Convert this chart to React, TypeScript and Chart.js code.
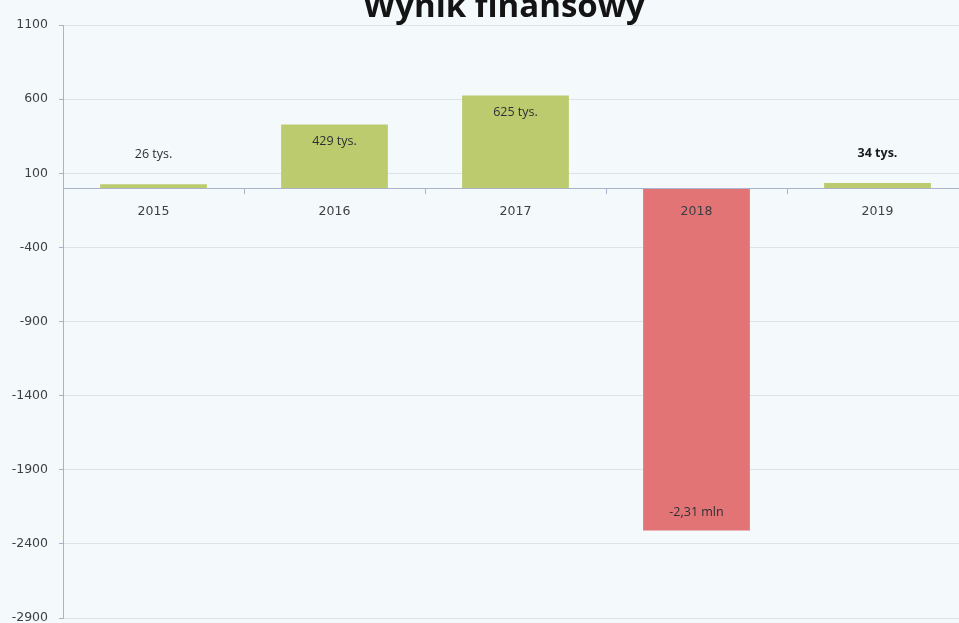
import React, { useEffect, useRef } from "react";
import { Chart, registerables } from "chart.js";

Chart.register(...registerables);

const title = "Wynik finansowy";
const categories = ["2015", "2016", "2017", "2018", "2019"];
const values = [26, 429, 625, -2310, 34];
const valueLabels = ["26 tys.", "429 tys.", "625 tys.", "-2,31 mln", "34 tys."];
const yTicks = [-2900, -2400, -1900, -1400, -900, -400, 100, 600, 1100];

const CANVAS_W = 975;
const CANVAS_H = 623;

const titlePlugin = {
  id: "titleText",
  afterDraw(chart: any) {
    const ctx = chart.ctx;
    ctx.save();
    ctx.font = 'bold 33px "Open Sans"';
    ctx.fillStyle = "#141414";
    ctx.textAlign = "center";
    ctx.textBaseline = "alphabetic";
    ctx.fillText(title, 504, 17);
    ctx.restore();
  },
};

const labelPlugin = {
  id: "valueLabels",
  afterDatasetsDraw(chart: any) {
    const ctx = chart.ctx;
    const meta = chart.getDatasetMeta(0);
    meta.data.forEach((bar: any, i: number) => {
      const v = values[i];
      const p = bar.getProps(["x", "y", "base"], true);
      let y: number;
      if (v < 0) y = p.y - 18;
      else if (p.base - p.y < 40) y = p.y - 30;
      else y = p.y + 17;
      ctx.save();
      const bold = categories[i] === "2019";
      ctx.font = (bold ? "bold " : "") + '12.5px "Open Sans"';
      ctx.fillStyle = bold ? "#1a1a1a" : "#2b2f33";
      ctx.textAlign = "center";
      ctx.textBaseline = "middle";
      ctx.fillText(valueLabels[i], p.x, y);
      ctx.restore();
    });
  },
};

export default function App() {
  const ref = useRef<HTMLCanvasElement | null>(null);

  useEffect(() => {
    if (!ref.current) return;
    const chart = new Chart(ref.current, {
      type: "bar",
      data: {
        labels: categories,
        datasets: [
          {
            data: values,
            backgroundColor: values.map((v) => (v < 0 ? "#e27476" : "#bdcb6f")),
            borderWidth: 0,
            barPercentage: 0.59,
            categoryPercentage: 1,
          },
        ],
      },
      options: {
        responsive: false,
        animation: false,
        layout: { padding: { left: 0, top: 25, right: 7, bottom: 5 } },
        plugins: {
          legend: { display: false },
          tooltip: { enabled: false },
          title: { display: false },
        },
        scales: {
          x: {
            type: "category",
            position: { y: 0 } as any,
            offset: true,
            grid: {
              offset: true,
              drawOnChartArea: false,
              drawTicks: true,
              tickLength: 5,
              color: "#a9b3cc",
            },
            border: { color: "#a9b3cc", width: 1, z: 1 },
            ticks: {
              z: 1,
              padding: 11,
              color: "#3d3f44",
              font: { family: "DejaVu Sans", size: 12.5 },
              maxRotation: 0,
            },
          },
          y: {
            min: -2900,
            max: 1100,
            afterBuildTicks: (scale: any) => {
              scale.ticks = yTicks.map((v) => ({ value: v }));
            },
            afterFit: (scale: any) => {
              scale.width = 63;
              scale.paddingTop = 0;
              scale.paddingBottom = 0;
            },
            grid: {
              color: "#dde3e8",
              tickColor: "#a9b3cc",
              tickLength: 4,
              drawTicks: true,
            },
            border: { color: "#a9b3cc", width: 1 },
            ticks: {
              padding: 11,
              color: "#3d3f44",
              font: { family: "DejaVu Sans", size: 12.5 },
              callback: (value: any) => String(value),
            },
          },
        },
      },
      plugins: [labelPlugin, titlePlugin],
    });
    return () => chart.destroy();
  }, []);

  return (
    <div
      style={{
        position: "fixed",
        left: 0,
        top: 0,
        width: 959,
        height: 623,
        overflow: "hidden",
        background: "#f4f9fc",
      }}
    >
      <canvas
        ref={ref}
        width={CANVAS_W}
        height={CANVAS_H}
        style={{ display: "block", width: CANVAS_W, height: CANVAS_H }}
      />
    </div>
  );
}
